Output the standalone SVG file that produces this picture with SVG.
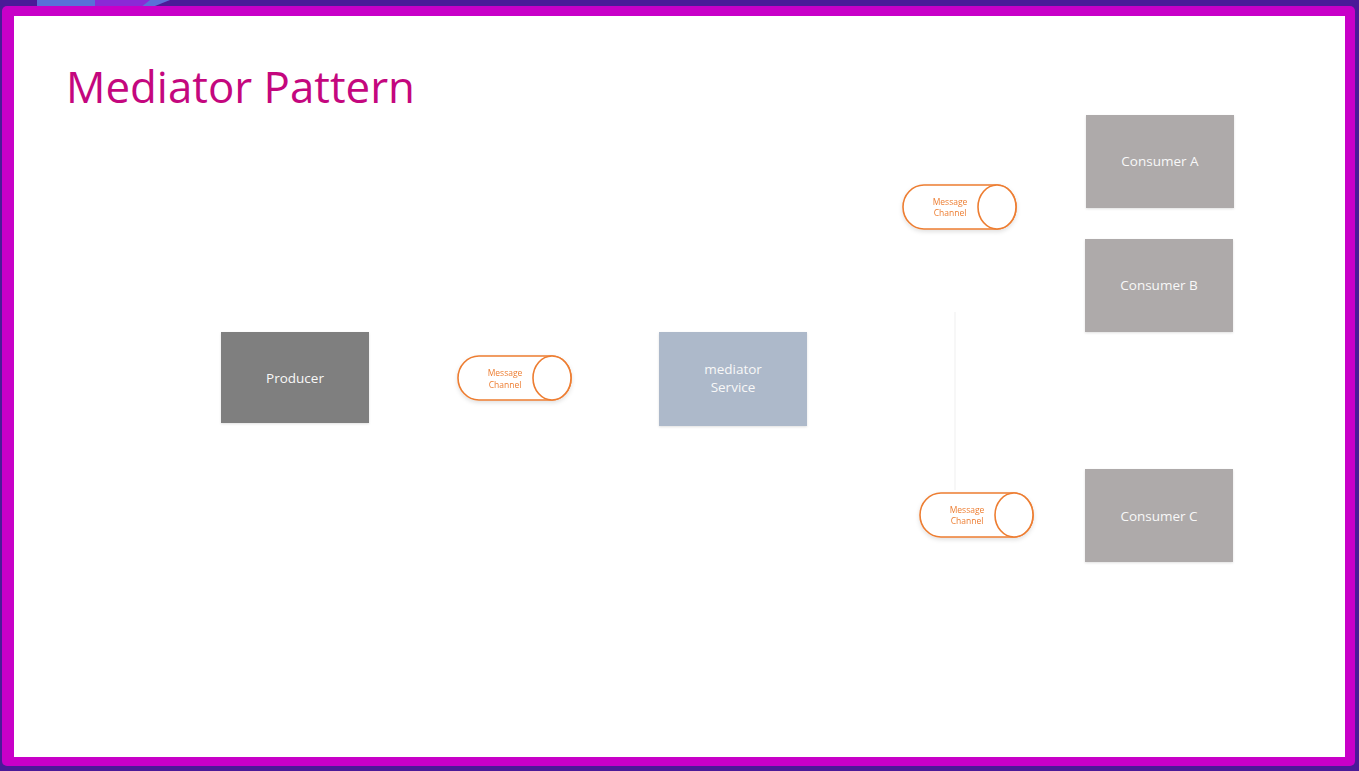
<svg xmlns="http://www.w3.org/2000/svg" width="1359" height="771" viewBox="0 0 1359 771">
<style>
.box text{font-family:"Open Sans","Liberation Sans",sans-serif;font-size:13.5px;fill:#f8f8f8;text-anchor:middle}
.box rect{filter:url(#bsh)}
.ch path,.ch ellipse{fill:#fff;stroke:#ed7d31;stroke-width:1.6}
.ch text{font-family:"Open Sans","Liberation Sans",sans-serif;font-size:8.5px;fill:#ed7d31;text-anchor:middle}
.title{font-family:"Open Sans","Liberation Sans",sans-serif;font-size:44px;fill:#c4077e}
</style>
<defs>
<filter id="sh" x="-20%" y="-30%" width="140%" height="170%">
<feDropShadow dx="0" dy="2" stdDeviation="2" flood-color="#000" flood-opacity="0.12"/>
</filter>
<filter id="bsh" x="-10%" y="-10%" width="120%" height="125%">
<feDropShadow dx="0" dy="1" stdDeviation="1" flood-color="#000" flood-opacity="0.12"/>
</filter>
</defs>
<!-- backdrop -->
<rect x="0" y="0" width="1359" height="771" fill="#4b1a98"/>
<path d="M37 0 H170 L150 8 H37 Z" fill="#5a6fd8"/>
<path d="M95 0 H150 L140 8 H95 Z" fill="#8a2ad6"/>
<rect x="2" y="6" width="1353" height="760" rx="5" fill="#c800c8"/>
<rect x="14" y="16" width="1331" height="741" fill="#ffffff"/>
<text class="title" x="66" y="103" textLength="349" lengthAdjust="spacingAndGlyphs">Mediator Pattern</text>
<g id="connectors">
<line x1="955" y1="312" x2="955" y2="490" stroke="#f7f7f7" stroke-width="2"/>
</g>
<g id="producer" class="box">
<rect x="221" y="332" width="148" height="91" fill="#7f7f7f"/>
<text x="295" y="383">Producer</text>
</g>
<g id="channel-1" class="ch" filter="url(#sh)">
<path d="M479 356 H552 A19 22 0 0 1 552 400 H479 A21 22 0 0 1 479 356 Z"/>
<ellipse cx="552" cy="378" rx="19" ry="22"/>
<text x="505" y="376">Message</text>
<text x="505" y="388">Channel</text>
</g>
<g id="mediator" class="box">
<rect x="659" y="332" width="148" height="94" fill="#adb9ca"/>
<text x="733" y="374">mediator</text>
<text x="733" y="392">Service</text>
</g>
<g id="channel-2" class="ch" filter="url(#sh)">
<path d="M924 185 H997 A19 22 0 0 1 997 229 H924 A21 22 0 0 1 924 185 Z"/>
<ellipse cx="997" cy="207" rx="19" ry="22"/>
<text x="950" y="205">Message</text>
<text x="950" y="216">Channel</text>
</g>
<g id="channel-3" class="ch" filter="url(#sh)">
<path d="M941 493 H1014 A19 22 0 0 1 1014 537 H941 A21 22 0 0 1 941 493 Z"/>
<ellipse cx="1014" cy="515" rx="19" ry="22"/>
<text x="967" y="513">Message</text>
<text x="967" y="524">Channel</text>
</g>
<g id="consumer-a" class="box">
<rect x="1086" y="115" width="148" height="93" fill="#aeaaaa"/>
<text x="1160" y="166">Consumer A</text>
</g>
<g id="consumer-b" class="box">
<rect x="1085" y="239" width="148" height="93" fill="#aeaaaa"/>
<text x="1159" y="290">Consumer B</text>
</g>
<g id="consumer-c" class="box">
<rect x="1085" y="469" width="148" height="93" fill="#aeaaaa"/>
<text x="1159" y="521">Consumer C</text>
</g>
</svg>
